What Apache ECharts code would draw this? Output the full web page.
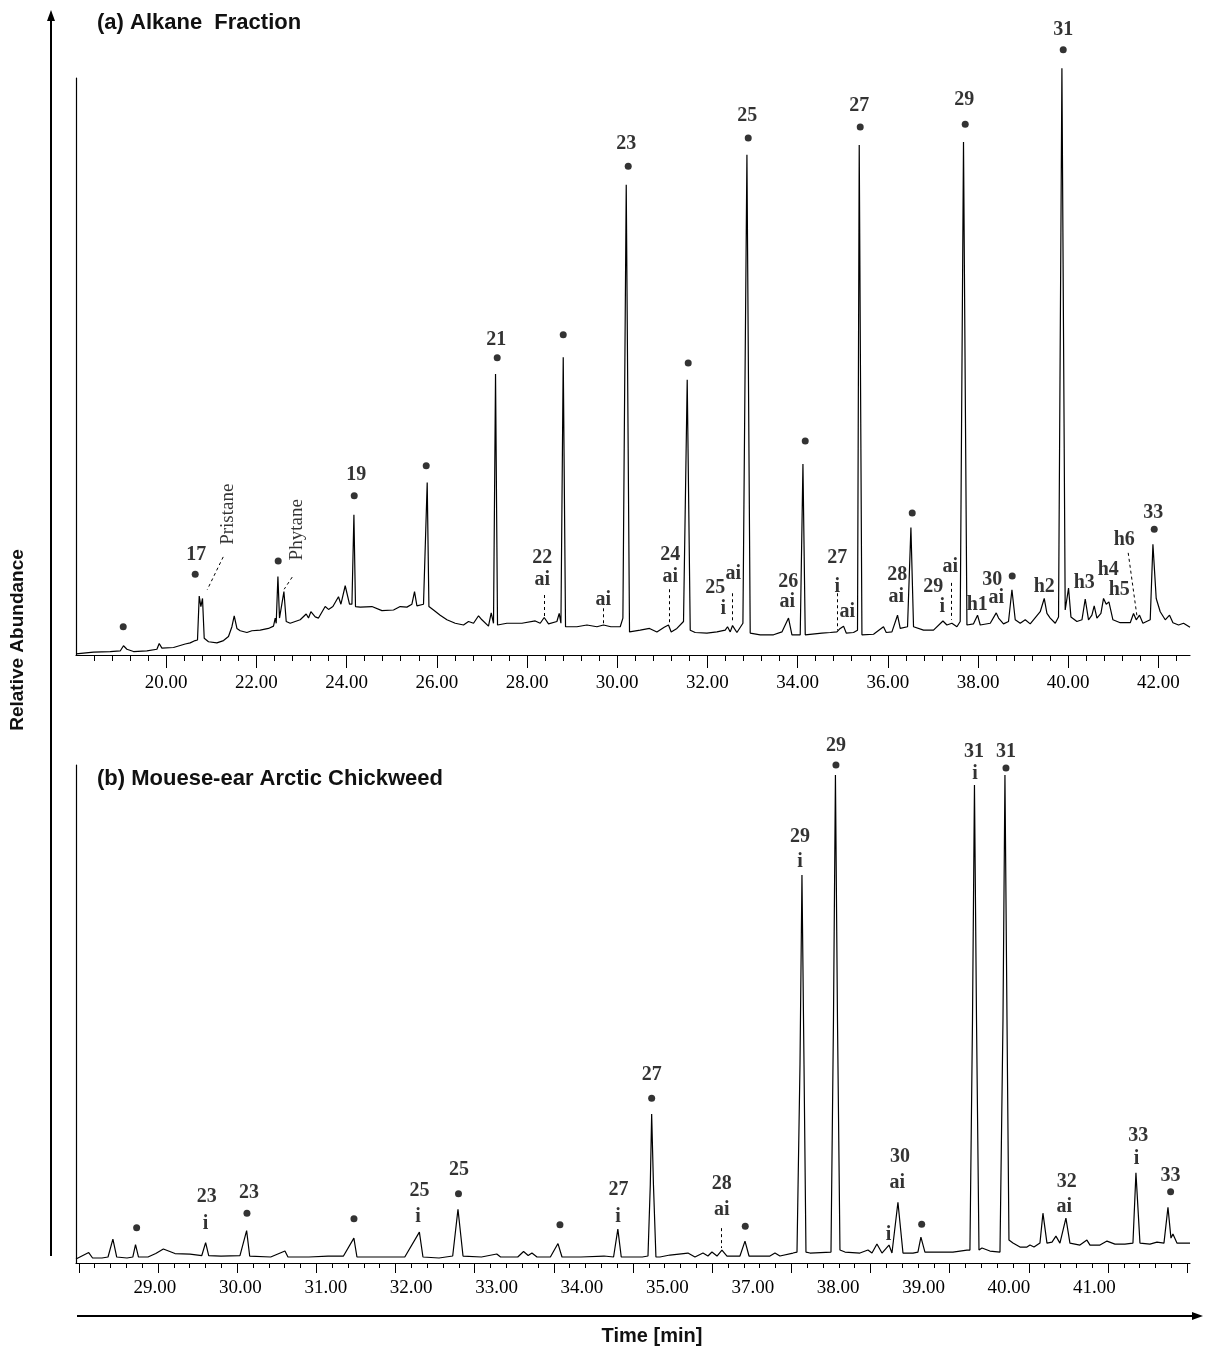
<!DOCTYPE html>
<html>
<head>
<meta charset="utf-8">
<script src="https://cdn.jsdelivr.net/npm/echarts@6/dist/echarts.min.js"></script>
<style>
  html, body { margin: 0; padding: 0; background: #fff; }
  #chart { width: 1205px; height: 1350px; }
</style>
</head>
<body>
<div id="chart"></div>
<script>
// (a) alkane fraction: [retention time (min), relative abundance (%)]
const traceA = [
  [18.0,0.2],[18.388,0.5],[18.758,0.6],[18.980,0.7],[19.053,1.6],[19.129,1.0],[19.275,0.6],[19.572,0.7],[19.794,1.0],[19.845,2.0],[19.905,1.2],
  [20.162,1.3],[20.421,1.9],[20.459,2.1],[20.532,2.1],[20.643,2.5],[20.694,2.6],[20.732,10.2],[20.769,8.4],[20.805,9.8],[20.843,2.9],[20.938,2.3],
  [21.124,2.1],[21.271,2.5],[21.381,3.2],[21.457,4.9],[21.508,6.8],[21.568,4.6],[21.641,4.2],[21.789,3.9],[21.900,4.2],
  [22.084,4.3],[22.268,4.6],[22.379,5.0],[22.417,6.4],[22.439,5.5],[22.477,13.6],[22.512,6.4],[22.550,6.6],[22.610,11.0],[22.661,5.8],[22.749,5.5],[22.860,5.8],[22.971,6.1],
  [23.104,7.1],[23.155,6.4],[23.208,7.5],[23.304,6.6],[23.377,6.4],[23.525,8.4],[23.599,7.9],[23.696,8.4],[23.820,10.1],[23.874,8.8],[23.969,12.0],
  [24.064,8.8],[24.118,8.8],[24.162,24.3],[24.197,8.4],[24.302,8.3],[24.561,8.4],[24.783,7.7],
  [25.040,7.8],[25.188,8.4],[25.337,8.3],[25.448,8.8],[25.506,11.0],[25.559,8.5],[25.705,8.8],[25.787,29.9],[25.825,8.4],[25.927,7.8],
  [26.075,6.9],[26.224,6.1],[26.408,5.5],[26.592,5.2],[26.703,5.8],[26.814,5.5],[26.925,6.8],
  [27.000,6.1],[27.146,5.0],[27.206,7.3],[27.257,5.5],[27.302,48.7],[27.346,5.2],[27.554,5.5],[27.887,5.5],
  [28.182,5.9],[28.293,5.5],[28.381,6.5],[28.477,5.4],[28.663,5.8],[28.714,7.2],[28.752,5.5],[28.803,51.6],[28.854,4.9],
  [29.106,4.9],[29.328,5.2],[29.550,4.9],[29.696,5.2],[29.860,4.9],
  [30.067,4.9],[30.126,6.4],[30.200,81.5],[30.273,4.0],[30.510,4.3],[30.716,4.6],[30.880,4.0],
  [31.042,4.8],[31.137,5.2],[31.197,4.0],[31.324,4.6],[31.470,5.8],[31.552,47.7],[31.619,4.3],[31.729,3.9],[31.989,3.8],
  [32.211,4.0],[32.395,4.3],[32.446,4.9],[32.506,4.0],[32.557,5.1],[32.654,3.9],[32.787,5.5],[32.876,86.7],[32.949,3.8],
  [33.171,3.5],[33.466,3.5],[33.652,4.0],[33.798,6.4],[33.874,3.5],
  [34.058,3.5],[34.118,33.1],[34.169,3.5],[34.539,3.8],[34.723,3.9],[34.871,4.0],[34.929,4.5],
  [35.018,5.0],[35.078,3.8],[35.239,3.9],[35.328,4.3],[35.366,88.4],[35.426,3.5],[35.683,3.6],[35.904,4.9],[35.965,3.9],
  [36.091,4.0],[36.215,6.9],[36.275,4.6],[36.437,4.9],[36.512,22.1],[36.570,4.9],[36.792,4.3],
  [37.013,4.3],[37.222,5.9],[37.310,5.2],[37.421,5.5],[37.532,4.9],[37.605,5.8],[37.678,88.9],[37.754,5.2],[37.900,5.4],[37.989,6.9],
  [38.049,5.2],[38.271,5.5],[38.404,7.3],[38.455,6.4],[38.565,5.4],[38.676,5.8],[38.752,11.3],[38.825,6.1],[38.936,5.5],
  [39.047,6.1],[39.157,5.4],[39.379,7.5],[39.468,9.8],[39.528,7.2],[39.601,6.4],[39.712,5.5],[39.785,6.6],[39.860,101.7],[39.933,7.8],
  [40.007,11.6],[40.060,6.6],[40.193,5.8],[40.304,6.1],[40.377,9.7],[40.450,6.1],[40.525,6.9],[40.576,8.5],[40.636,6.4],[40.725,7.2],
  [40.783,9.8],[40.843,8.8],[40.902,9.2],[40.991,6.1],
  [41.153,5.6],[41.375,5.6],[41.448,7.2],[41.508,6.1],[41.581,6.9],[41.656,5.5],[41.818,6.1],[41.878,19.2],[41.951,9.8],
  [42.040,7.5],[42.151,6.1],[42.246,6.9],[42.322,5.6],[42.446,5.2],[42.557,5.5],[42.7,4.8]
];

// (b) chickweed: x in axis positions (29..40 carry the printed labels below)
const traceB = [
  [28.075,0.8],[28.224,2.1],[28.269,1.0],[28.379,1.0],[28.450,1.2],[28.507,4.8],[28.552,1.2],[28.672,1.0],[28.740,1.2],[28.772,3.7],[28.807,1.2],[28.918,1.2],
  [29.009,1.9],[29.098,2.8],[29.234,1.9],[29.410,1.8],[29.548,1.5],[29.593,4.1],[29.629,1.5],[29.773,1.4],[29.995,1.5],
  [30.073,6.5],[30.109,1.4],[30.355,1.2],[30.522,2.4],[30.557,1.2],[30.803,1.2],
  [31.026,1.4],[31.207,1.4],[31.329,5.0],[31.365,1.2],[31.564,1.2],[31.925,1.2],
  [32.096,6.2],[32.138,1.2],[32.326,1.0],[32.486,1.4],[32.548,10.8],[32.607,1.4],[32.823,1.2],
  [33.002,1.8],[33.047,1.2],[33.248,1.2],[33.316,2.3],[33.370,1.5],[33.414,2.0],[33.473,1.2],[33.630,1.2],[33.719,3.9],[33.766,1.2],[33.988,1.2],
  [34.258,1.4],[34.370,1.2],[34.420,6.8],[34.460,1.2],[34.707,1.2],[34.773,1.4],[34.800,15.7],[34.816,29.9],[34.837,15.7],[34.866,1.2],[34.913,1.2],
  [35.030,1.6],[35.241,2.0],[35.323,1.2],[35.417,2.0],[35.475,1.4],[35.522,2.2],[35.581,1.4],[35.639,2.6],[35.698,1.4],[35.850,1.4],[35.909,4.4],[35.956,1.4],
  [36.201,1.4],[36.260,2.0],[36.318,1.4],[36.471,2.0],[36.518,2.2],[36.553,39.8],[36.576,77.9],[36.600,39.8],[36.623,2.2],[36.670,2.0],
  [36.916,2.2],[36.945,48.8],[36.968,98.0],[36.992,48.8],[37.021,2.6],[37.080,2.2],
  [37.255,2.0],[37.349,2.6],[37.396,2.0],[37.454,3.8],[37.513,2.0],[37.595,3.6],[37.630,2.0],[37.700,12.2],[37.759,2.0],[37.876,2.0],[37.934,2.2],[37.969,5.2],
  [38.016,2.2],[38.344,2.2],[38.508,2.6],[38.543,2.6],[38.573,48.8],[38.596,96.0],[38.620,48.8],[38.649,2.6],[38.684,3.0],[38.777,2.4],[38.895,2.2],
  [38.930,48.8],[38.953,98.0],[38.977,48.8],[39.000,4.6],[39.047,4.0],[39.129,3.2],[39.211,3.2],[39.246,3.6],[39.293,3.2],[39.328,3.6],[39.363,4.0],
  [39.398,10.0],[39.445,4.0],[39.504,4.2],[39.550,5.4],[39.597,4.0],[39.667,9.0],[39.714,4.0],[39.831,3.6],[39.913,4.6],[39.949,3.6],
  [40.066,3.6],[40.148,4.4],[40.241,3.8],[40.358,3.8],[40.452,4.0],[40.487,18.1],[40.534,4.0],[40.651,3.8],[40.733,4.2],[40.815,4.0],
  [40.862,11.2],[40.897,5.0],[40.920,5.8],[40.967,4.0],[41.037,4.0],[41.12,4.0]
];

// tick labels
const majorTicksA = [20, 22, 24, 26, 28, 30, 32, 34, 36, 38, 40, 42];
const labelPosB = [29, 30, 31, 32, 33, 34, 35, 36, 37, 38, 39, 40];
const tickLabelsB = ['29.00', '30.00', '31.00', '32.00', '33.00', '34.00', '35.00', '37.00', '38.00', '39.00', '40.00', '41.00'];

// peak markers and annotations, in data units
const dotsA = [[19.047,4.9],[20.643,14.0],[22.483,16.3],[24.169,27.6],[25.765,32.8],[27.339,51.5],[28.803,55.5],[30.244,84.7],[31.574,50.6],
  [32.905,89.6],[34.169,37.1],[35.388,91.5],[36.541,24.6],[37.716,92.0],[38.758,13.7],[39.889,104.9],[41.907,21.8]];
const textA = [[20.665,17.3,'17'],[24.213,31.2,'19'],[27.317,54.6,'21'],[28.337,16.8,'22'],[28.337,13.0,'ai'],[29.690,9.5,'ai'],[30.200,88.6,'23'],
  [31.175,17.3,'24'],[31.175,13.5,'ai'],[32.173,11.6,'25'],[32.350,8.0,'i'],[32.572,14.0,'ai'],[32.882,93.4,'25'],[33.792,12.7,'26'],[33.769,9.2,'ai'],
  [34.878,16.8,'27'],[34.878,11.8,'i'],[35.100,7.5,'ai'],[35.366,95.1,'27'],[36.208,13.9,'28'],[36.186,10.1,'ai'],[37.007,11.8,'29'],[37.206,8.3,'i'],
  [37.384,15.3,'ai'],[37.694,96.2,'29'],[37.982,8.7,'h1'],[38.315,13.0,'30'],[38.404,9.9,'ai'],[39.468,11.8,'h2'],[39.889,108.3,'31'],
  [40.355,12.5,'h3'],[40.887,14.7,'h4'],[41.131,11.3,'h5'],[41.242,19.9,'h6'],[41.885,24.6,'33']];
const compoundsA = [[21.375,24.4,'Pristane'],[22.898,21.7,'Phytane']];
const leadersA = [[21.264,17.0,20.909,11.3],[22.794,13.5,22.616,11.4],[28.381,10.4,28.381,6.6],[29.690,8.1,29.690,5.5],[31.153,11.4,31.153,5.5],
  [32.550,10.7,32.550,5.5],[34.878,10.7,34.878,4.3],[37.406,12.5,37.406,6.1],[41.330,17.7,41.530,6.4]];

const dotsB = [[28.785,7.1],[30.077,10.0],[31.330,8.9],[32.554,13.9],[33.742,7.7],[34.816,33.1],[35.912,7.4],[36.974,100.0],[37.978,7.8],[38.965,99.4],[40.893,14.3]];
const textB = [[29.605,13.3,'23'],[29.593,7.9,'i'],[30.100,14.1,'23'],[32.096,14.5,'25'],[32.080,9.2,'i'],[32.560,18.7,'25'],[34.429,14.7,'27'],[34.422,9.2,'i'],
  [34.816,37.8,'27'],[35.636,15.9,'28'],[35.636,10.6,'ai'],[36.553,85.6,'29'],[36.553,80.6,'i'],[36.974,103.8,'29'],[37.591,5.6,'i'],[37.724,21.3,'30'],
  [37.692,16.0,'ai'],[38.590,102.6,'31'],[38.602,98.2,'i'],[38.965,102.6,'31'],[39.676,16.3,'32'],[39.647,11.3,'ai'],[40.514,25.5,'33'],[40.495,21.0,'i'],
  [40.893,17.5,'33']];
const leadersB = [[35.636,7.0,35.636,3.0]];

const serif = '"Liberation Serif", "Times New Roman", serif';
const sans = '"Liberation Sans", Arial, Helvetica, sans-serif';

// tick positions for the axes
const minorTicksA = [];
for (let k = 46; k <= 106; k++) {
  if (k % 5 !== 0) minorTicksA.push(Math.round(k * 4) / 10);
}
// bottom panel ticks sit on their own grid of 15 marks
const majorTicksB = [];
const minorTicksB = [];
for (let k = 0; k <= 14; k++) {
  majorTicksB.push(k);
  if (k < 14) for (let j = 1; j < 5; j++) minorTicksB.push(Math.round((k + j * 0.2) * 10) / 10);
}

const black = '#000';

function dotSeries(data, xi, yi) {
  return {
    type: 'scatter', xAxisIndex: xi, yAxisIndex: yi, data: data,
    symbol: 'circle', symbolSize: 7, itemStyle: { color: black },
    clip: false, silent: true, animation: false
  };
}

function textSeries(data, xi, yi, label) {
  return {
    type: 'scatter', xAxisIndex: xi, yAxisIndex: yi, data: data, symbolSize: 1,
    itemStyle: { color: 'rgba(0,0,0,0)' }, clip: false, silent: true, animation: false,
    label: Object.assign({
      show: true, position: 'inside', formatter: p => p.data[2], color: black,
      fontFamily: serif, fontWeight: 'bold', fontSize: 20
    }, label || {})
  };
}

function leaderSeries(data, xi, yi) {
  return {
    type: 'lines', coordinateSystem: 'cartesian2d', xAxisIndex: xi, yAxisIndex: yi,
    data: data.map(l => ({ coords: [[l[0], l[1]], [l[2], l[3]]] })),
    lineStyle: { color: black, width: 1, type: [3, 3], opacity: 1 },
    silent: true, animation: false
  };
}

const chart = echarts.init(document.getElementById('chart'));

chart.setOption({
  backgroundColor: '#fff',
  animation: false,
  title: [
    { text: '(a) Alkane  Fraction', left: 97, top: 12, padding: 0,
      textStyle: { fontFamily: sans, fontWeight: 'bold', fontSize: 22, color: '#111' } },
    { text: '(b) Mouese-ear Arctic Chickweed', left: 97, top: 768, padding: 0,
      textStyle: { fontFamily: sans, fontWeight: 'bold', fontSize: 22, color: '#111' } }
  ],
  grid: [
    { left: 76, top: 78, width: 1114, height: 577, outerBoundsMode: 'none', containLabel: false },
    { left: 76, top: 765, width: 1114, height: 498, outerBoundsMode: 'none', containLabel: false }
  ],
  xAxis: [
    { // top panel: data axis with minor ticks
      gridIndex: 0, type: 'value', min: 18, max: 42.7, position: 'bottom',
      axisLine: { show: true, onZero: false, lineStyle: { color: black, width: 1.2 } },
      axisTick: { show: true, customValues: minorTicksA, length: 6, lineStyle: { color: black, width: 1 } },
      axisLabel: { show: false }, splitLine: { show: false }
    },
    { // top panel: major ticks and labels
      gridIndex: 0, type: 'value', min: 18, max: 42.7, position: 'bottom',
      axisLine: { show: false, onZero: false },
      axisTick: { show: true, customValues: majorTicksA, length: 13, lineStyle: { color: black, width: 1 } },
      axisLabel: { show: true, customValues: majorTicksA, formatter: v => v.toFixed(2), margin: 19,
        fontFamily: serif, fontSize: 19, color: black },
      splitLine: { show: false }
    },
    { // bottom panel: data axis carrying the printed labels
      gridIndex: 1, type: 'value', min: 28.075, max: 41.12, position: 'bottom',
      axisLine: { show: false, onZero: false },
      axisTick: { show: false },
      axisLabel: { show: true, customValues: labelPosB, formatter: v => tickLabelsB[labelPosB.indexOf(v)],
        margin: 16, fontFamily: serif, fontSize: 19, color: black },
      splitLine: { show: false }
    },
    { // bottom panel: major ticks
      gridIndex: 1, type: 'value', min: -0.035, max: 14.035, position: 'bottom',
      axisLine: { show: true, onZero: false, lineStyle: { color: black, width: 1.2 } },
      axisTick: { show: true, customValues: majorTicksB, length: 10, lineStyle: { color: black, width: 1 } },
      axisLabel: { show: false }, splitLine: { show: false }
    },
    { // bottom panel: minor ticks
      gridIndex: 1, type: 'value', min: -0.035, max: 14.035, position: 'bottom',
      axisLine: { show: false, onZero: false },
      axisTick: { show: true, customValues: minorTicksB, length: 5, lineStyle: { color: black, width: 1 } },
      axisLabel: { show: false }, splitLine: { show: false }
    }
  ],
  yAxis: [
    { gridIndex: 0, type: 'value', min: 0, max: 100,
      axisLine: { show: true, onZero: false, lineStyle: { color: black, width: 1.2 } },
      axisTick: { show: false }, axisLabel: { show: false }, splitLine: { show: false } },
    { gridIndex: 1, type: 'value', min: 0, max: 100,
      axisLine: { show: true, onZero: false, lineStyle: { color: black, width: 1.2 } },
      axisTick: { show: false }, axisLabel: { show: false }, splitLine: { show: false } }
  ],
  series: [
    { type: 'line', xAxisIndex: 0, yAxisIndex: 0, data: traceA, symbol: 'none', clip: false,
      lineStyle: { color: black, width: 1.2 }, silent: true },
    { type: 'line', xAxisIndex: 2, yAxisIndex: 1, data: traceB, symbol: 'none', clip: false,
      lineStyle: { color: black, width: 1.2 }, silent: true },
    dotSeries(dotsA, 0, 0),
    dotSeries(dotsB, 2, 1),
    textSeries(textA, 0, 0),
    textSeries(textB, 2, 1),
    textSeries(compoundsA, 0, 0, { fontWeight: 'normal', fontSize: 19, rotate: 90 }),
    leaderSeries(leadersA, 0, 0),
    leaderSeries(leadersB, 2, 1)
  ],
  graphic: [
    // axis arrows and names
    { type: 'line', shape: { x1: 51, y1: 1256, x2: 51, y2: 18 }, style: { stroke: black, lineWidth: 2 } },
    { type: 'polygon', shape: { points: [[51, 10], [47, 21], [55, 21]] }, style: { fill: black } },
    { type: 'line', shape: { x1: 77, y1: 1316, x2: 1194, y2: 1316 }, style: { stroke: black, lineWidth: 2 } },
    { type: 'polygon', shape: { points: [[1203, 1316], [1192, 1312], [1192, 1320]] }, style: { fill: black } },
    { type: 'text', x: 18, y: 640, rotation: Math.PI / 2,
      style: { text: 'Relative Abundance', fill: '#111', font: 'bold 19px ' + sans, textAlign: 'center', textVerticalAlign: 'middle' } },
    { type: 'text', x: 652, y: 1336,
      style: { text: 'Time [min]', fill: '#111', font: 'bold 20px ' + sans, textAlign: 'center', textVerticalAlign: 'middle' } }
  ]
});
</script>
</body>
</html>
